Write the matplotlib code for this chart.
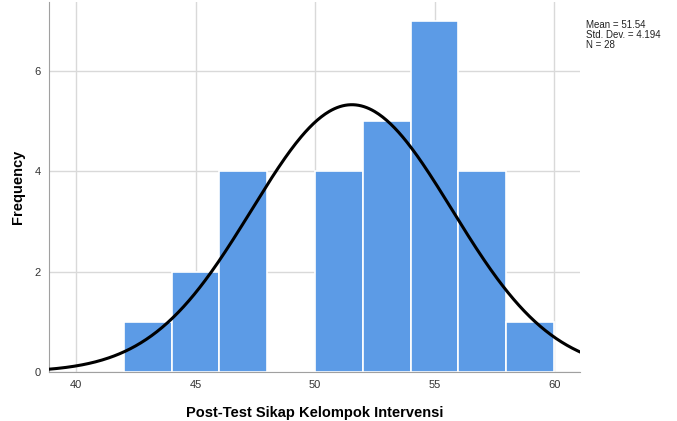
import numpy as np
import matplotlib.pyplot as plt

plt.rcParams['font.family'] = ['Liberation Sans', 'DejaVu Sans']

# histogram data (bins of width 2)
bin_edges = [42, 44, 46, 48, 50, 52, 54, 56, 58, 60]
counts = [1, 2, 4, 0, 4, 5, 7, 4, 1]
mean = 51.54
std_dev = 4.194
n = 28
x_ticks = [40, 45, 50, 55, 60]
y_ticks = [0, 2, 4, 6]

fig = plt.figure(figsize=(6.77, 4.21), dpi=100)
ax = fig.add_axes([0.0724, 0.1164, 0.7845, 0.879])

ax.grid(True, color='#d9d9d9', linewidth=1)
ax.set_axisbelow(True)

widths = np.diff(bin_edges)
ax.bar(bin_edges[:-1], counts, width=widths, align='edge',
       color='#5c9be6', edgecolor='white', linewidth=1.2, zorder=2)

# normal curve scaled to the histogram
xs = np.linspace(38.8, 61.1, 400)
bw = widths[0]
ys = n * bw * np.exp(-0.5 * ((xs - mean) / std_dev) ** 2) / (std_dev * np.sqrt(2 * np.pi))
ax.plot(xs, ys, color='black', linewidth=2.2, zorder=3)

ax.set_xlim(38.87, 61.09)
ax.set_ylim(0, 7.375)
ax.set_xticks(x_ticks)
ax.set_yticks(y_ticks)
ax.tick_params(length=0, labelsize=8, colors='#333333', pad=6)

for side in ['top', 'right']:
    ax.spines[side].set_visible(False)
for side in ['left', 'bottom']:
    ax.spines[side].set_color('#a0a0a0')

ax.set_xlabel('Post-Test Sikap Kelompok Intervensi', fontsize=10.5, fontweight='bold', labelpad=11)
ax.set_ylabel('Frequency', fontsize=10.5, fontweight='bold', labelpad=7)

fig.text(0.866, 0.952, 'Mean = %.2f\nStd. Dev. = %.3f\nN = %d' % (mean, std_dev, n),
         fontsize=7, va='top', ha='left', linespacing=1.0, color='#222222')

fig.savefig('out.png', dpi=100)
